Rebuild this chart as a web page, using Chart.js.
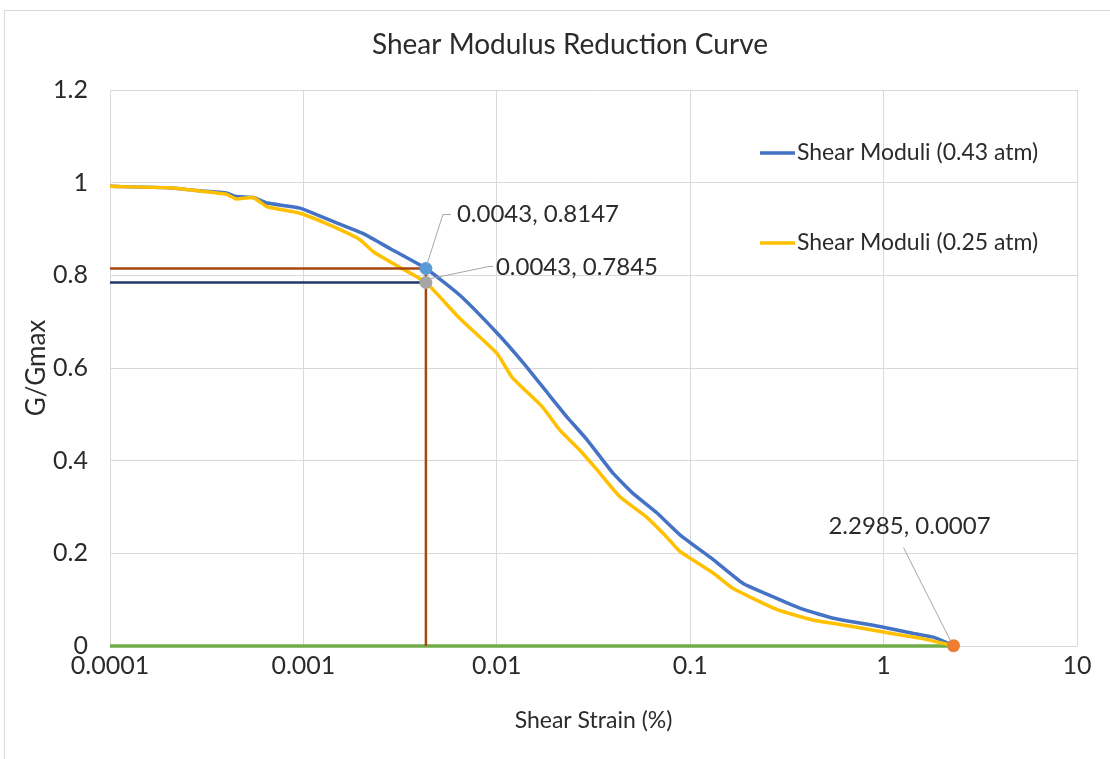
<!DOCTYPE html>
<html>
<head>
<meta charset="utf-8">
<script src="https://cdn.jsdelivr.net/npm/chart.js@4.4.1/dist/chart.umd.min.js"></script>
<style>
  html, body { margin: 0; padding: 0; background: #ffffff; }
  #wrap { width: 1110px; height: 759px; position: relative; }
</style>
</head>
<body>
<div id="wrap"><canvas id="c" width="1110" height="759"></canvas></div>
<script>
// ---------- data ----------
const chartTitle = "Shear Modulus Reduction Curve";
const xAxisTitle = "Shear Strain (%)";
const yAxisTitle = "G/Gmax";
const seriesNames = ["Shear Moduli (0.43 atm)", "Shear Moduli (0.25 atm)"];

const strain043 = [0.0001, 0.0002, 0.00028, 0.0004, 0.00045, 0.00055, 0.00065, 0.00096, 0.00143, 0.00204, 0.0028, 0.0043, 0.0064, 0.01, 0.0137, 0.0183, 0.0231, 0.0293, 0.0399, 0.0504, 0.0674, 0.0885, 0.132, 0.188, 0.28, 0.385, 0.55, 0.957, 1.43, 1.81, 2.2985];
const ratio043  = [0.992, 0.989, 0.983, 0.978, 0.970, 0.968, 0.956, 0.945, 0.916, 0.890, 0.858, 0.8147, 0.758, 0.676, 0.611, 0.546, 0.494, 0.445, 0.373, 0.330, 0.287, 0.240, 0.186, 0.135, 0.103, 0.079, 0.060, 0.042, 0.027, 0.019, 0.0007];

const strain025 = [0.0001, 0.0002, 0.00028, 0.0004, 0.00045, 0.00055, 0.00065, 0.00096, 0.00143, 0.00196, 0.0023, 0.0031, 0.0043, 0.0064, 0.01, 0.012, 0.0172, 0.0212, 0.0268, 0.033, 0.0433, 0.0595, 0.0756, 0.0885, 0.132, 0.165, 0.28, 0.43, 0.69, 1.03, 1.55, 2.2985];
const ratio025  = [0.992, 0.989, 0.983, 0.975, 0.965, 0.968, 0.948, 0.934, 0.905, 0.877, 0.851, 0.819, 0.7845, 0.708, 0.632, 0.580, 0.516, 0.466, 0.423, 0.380, 0.322, 0.278, 0.235, 0.204, 0.157, 0.125, 0.079, 0.056, 0.042, 0.029, 0.017, 0.0007];

const markStrain = 0.0043;
const markRatio043 = 0.8147;
const markRatio025 = 0.7845;
const endStrain = 2.2985;
const endRatio = 0.0007;
const startStrain = 0.0001;
const zeroRatio = 0;

const xTickValues = [0.0001, 0.001, 0.01, 0.1, 1, 10];
const yTickValues = [0, 0.2, 0.4, 0.6, 0.8, 1, 1.2];

// ---------- styles ----------
const FONT = "Lato, 'Open Sans', sans-serif";
const TXT = "#2b2b2b";
const C_BLUE = "#4472C4", C_YEL = "#FFC000", C_BROWN = "#A5480F", C_NAVY = "#203864",
      C_GREEN = "#70AD47", C_MBLUE = "#5B9BD5", C_MGRAY = "#A5A5A5", C_MORANGE = "#ED7D31";

const toPts = (xs, ys) => xs.map((x, i) => ({x: x, y: ys[i]}));

const datasets = [
  { label: seriesNames[0], data: toPts(strain043, ratio043), borderColor: C_BLUE, borderWidth: 3.5, pointRadius: 0, order: 6, tension: 0.15 },
  { label: seriesNames[1], data: toPts(strain025, ratio025), borderColor: C_YEL, borderWidth: 3.5, pointRadius: 0, order: 5, tension: 0.15 },
  { label: "zero", data: [{x: startStrain, y: zeroRatio}, {x: endStrain, y: zeroRatio}], borderColor: C_GREEN, borderWidth: 3.5, pointRadius: 0, order: 7 },
  { label: "h043", data: [{x: startStrain, y: markRatio043}, {x: markStrain, y: markRatio043}], borderColor: C_BROWN, borderWidth: 2.5, pointRadius: 0, order: 4 },
  { label: "h025", data: [{x: startStrain, y: markRatio025}, {x: markStrain, y: markRatio025}], borderColor: C_NAVY, borderWidth: 2.5, pointRadius: 0, order: 4 },
  { label: "v", data: [{x: markStrain, y: zeroRatio}, {x: markStrain, y: markRatio043}], borderColor: C_BROWN, borderWidth: 2.5, pointRadius: 0, order: 3 },
  { label: "m1", data: [{x: markStrain, y: markRatio043}], showLine: false, pointRadius: 6.5, pointBackgroundColor: C_MBLUE, pointBorderWidth: 0, order: 1 },
  { label: "m2", data: [{x: markStrain, y: markRatio025}], showLine: false, pointRadius: 6.5, pointBackgroundColor: C_MGRAY, pointBorderWidth: 0, order: 1 },
  { label: "m3", data: [{x: endStrain, y: endRatio}], showLine: false, pointRadius: 6.5, pointBackgroundColor: C_MORANGE, pointBorderWidth: 0, order: 1 }
];
datasets.forEach(d => {
  if (d.showLine === undefined) d.showLine = true;
  if (d.tension === undefined) d.tension = 0;
  d.fill = false; d.clip = false;
});

const extras = {
  id: "extras",
  beforeDraw(chart) {
    const ctx = chart.ctx;
    ctx.save();
    ctx.fillStyle = "#ffffff";
    ctx.fillRect(0, 0, chart.width, chart.height);
    ctx.strokeStyle = "#d9d9d9";
    ctx.lineWidth = 1;
    ctx.strokeRect(4.5, 10.5, chart.width + 10, chart.height + 10);
    ctx.restore();
  },
  afterDatasetsDraw(chart) {
    const ctx = chart.ctx;
    const xs = chart.scales.x, ys = chart.scales.y;
    ctx.save();
    // title
    ctx.font = "28px " + FONT;
    ctx.fillStyle = TXT;
    ctx.textAlign = "center";
    ctx.textBaseline = "middle";
    ctx.fillText(chartTitle, 570, 45);
    // data labels
    ctx.font = "24px " + FONT;
    ctx.strokeStyle = "#A6A6A6";
    ctx.lineWidth = 1;
    let px = xs.getPixelForValue(markStrain), py = ys.getPixelForValue(markRatio043);
    ctx.beginPath(); ctx.moveTo(px + 1, py - 4); ctx.lineTo(px + 17, py - 54); ctx.lineTo(px + 25, py - 54); ctx.stroke();
    ctx.textAlign = "left";
    ctx.fillText(markStrain + ", " + markRatio043, px + 31, py - 54);
    py = ys.getPixelForValue(markRatio025);
    ctx.beginPath(); ctx.moveTo(px + 5, py - 4); ctx.lineTo(px + 63, py - 16); ctx.lineTo(px + 67, py - 16); ctx.stroke();
    ctx.fillText(markStrain + ", " + markRatio025, px + 70, py - 15);
    px = xs.getPixelForValue(endStrain); py = ys.getPixelForValue(endRatio);
    ctx.beginPath(); ctx.moveTo(px - 3, py - 5); ctx.lineTo(px - 50, py - 98); ctx.stroke();
    ctx.textAlign = "center";
    ctx.fillText(endStrain + ", " + endRatio, px - 44, py - 119);
    // legend
    ctx.font = "23px " + FONT;
    const leg = [[seriesNames[0], C_BLUE, 153], [seriesNames[1], C_YEL, 243]];
    ctx.textAlign = "left";
    leg.forEach(([t, c, y]) => {
      ctx.strokeStyle = c; ctx.lineWidth = 3.5;
      ctx.beginPath(); ctx.moveTo(760, y); ctx.lineTo(795, y); ctx.stroke();
      ctx.fillStyle = TXT;
      ctx.fillText(t, 797, y);
    });
    ctx.restore();
  }
};

new Chart(document.getElementById("c"), {
  type: "scatter",
  data: { datasets: datasets },
  plugins: [extras],
  options: {
    responsive: false,
    animation: false,
    layout: { padding: { left: 0, right: 33, top: 90, bottom: 0 } },
    plugins: {
      legend: { display: false },
      tooltip: { enabled: false },
      title: { display: false }
    },
    scales: {
      x: {
        type: "logarithmic", min: 0.0001, max: 10,
        afterBuildTicks: s => { s.ticks = xTickValues.map(v => ({ value: v })); },
        afterFit: s => { s.height = 113; },
        ticks: { color: TXT, font: { family: FONT, size: 25 }, padding: 5, autoSkip: false, maxRotation: 0,
                 callback: v => String(v) },
        grid: { color: "#d9d9d9", lineWidth: 1, drawTicks: false },
        border: { display: false },
        title: { display: true, text: xAxisTitle, color: TXT, font: { family: FONT, size: 23 }, padding: { top: 0, bottom: 25 } }
      },
      y: {
        type: "linear", min: 0, max: 1.2,
        afterBuildTicks: s => { s.ticks = yTickValues.map(v => ({ value: v })); },
        afterFit: s => { s.width = 110; },
        ticks: { color: TXT, font: { family: FONT, size: 25 }, padding: 22, callback: v => String(Number(v.toFixed(1))) },
        grid: { color: "#d9d9d9", lineWidth: 1, drawTicks: false },
        border: { display: false },
        title: { display: true, text: yAxisTitle, color: TXT, font: { family: FONT, size: 26 }, padding: { top: 21, bottom: 0 } }
      }
    }
  }
});
</script>
</body>
</html>
